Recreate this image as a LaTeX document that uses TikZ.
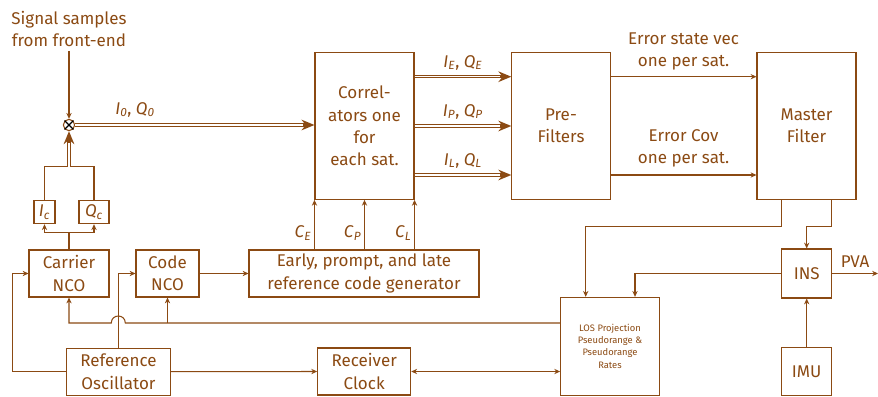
\documentclass[tikz,border=0pt]{standalone}
\usepackage{fontspec}
\setmainfont{Fira Sans}
\usepackage{tikz}
\usetikzlibrary{arrows.meta,calc}
\definecolor{rbrown}{RGB}{139,74,19}
\tikzstyle{block} = [rectangle, draw=rbrown, line width=0.9pt, align=center, inner sep=1pt]
\tikzstyle{arrow} = [line width=0.9pt, -{Stealth[length=5pt,width=4.5pt]}]
\tikzstyle{biarrow} = [line width=0.9pt, {Stealth[length=5pt,width=4.5pt]}-{Stealth[length=5pt,width=4.5pt]}]
\tikzstyle{dblarrow} = [line width=2.8pt, -{Stealth[length=11pt,width=9pt]},
  postaction={draw=white, line width=1.1pt, -, shorten >=10pt}]
\newcommand{\sig}[2]{\textit{#1}\textsubscript{\textit{#2}}}

\begin{document}
\begin{tikzpicture}[x=0.03cm, y=-0.03cm, draw=rbrown, text=rbrown,
    font=\fontsize{14.5}{19}\selectfont]
  \useasboundingbox (0,0) rectangle (878,396);

  % input and mixer
  \node (sig) at (69,29) [align=center] {Signal samples\\from front-end};
  \node (mix) at (69,125) [circle, draw=rbrown, line width=0.9pt, minimum size=0.34cm, inner sep=0pt] {};
  \draw[black, line width=1.2pt] (mix.north west) -- (mix.south east) (mix.north east) -- (mix.south west);

  % main chain
  \node (corr) at (364.5,126) [block, minimum width=2.97cm, minimum height=4.4cm] {Correl-\\ators one\\for\\each sat.};
  \node (pref) at (561,126) [block, minimum width=2.95cm, minimum height=4.4cm] {Pre-\\Filters};
  \node (mast) at (806.5,126) [block, minimum width=2.97cm, minimum height=4.42cm] {Master\\Filter};

  % carrier side
  \node (ic) at (44.5,212.2) [block, minimum width=0.63cm, minimum height=0.69cm] {\sig{I}{c}};
  \node (qc) at (94,212.2) [block, minimum width=0.9cm, minimum height=0.69cm] {\sig{Q}{c}};
  \node (carr) at (69,273.5) [block, minimum width=2.4cm, minimum height=1.41cm] {Carrier\\NCO};
  \node (code) at (167.5,273.5) [block, minimum width=1.89cm, minimum height=1.41cm] {Code\\NCO};
  \node (early) at (364,273.5) [block, minimum width=6.9cm, minimum height=1.41cm] {Early, prompt, and late\\reference code generator};

  % bottom row
  \node (ref) at (118.5,371.7) [block, minimum width=3.1cm, minimum height=1.41cm] {Reference\\Oscillator};
  \node (clk) at (364.2,371.5) [block, minimum width=2.79cm, minimum height=1.41cm] {Receiver\\Clock};
  \node (los) at (610,346.2) [block, minimum width=2.96cm, minimum height=2.93cm,
      font=\fontsize{8}{10.5}\selectfont] {LOS Projection\\Pseudorange \&\\Pseudorange\\Rates};
  \node (ins) at (806.7,273.5) [block, minimum width=1.5cm, minimum height=1.47cm] {INS};
  \node (imu) at (806.7,371.5) [block, minimum width=1.5cm, minimum height=1.44cm] {IMU};

  \coordinate (top) at (69,166.7);
  \coordinate (hop) at (118.3,323);
  \coordinate (pva) at (878,273.5);

  % signal path
  \draw[arrow] (sig) -- (mix);
  \draw[dblarrow] (mix.east) -- (mix.east -| corr.west)
    node[pos=0.25, above=2pt] {\sig{I}{0}, \sig{Q}{0}};
  \draw[dblarrow] (corr.east |- 0,76.7) -- (pref.west |- 0,76.7)
    node[midway, above=1pt] {\sig{I}{E}, \sig{Q}{E}};
  \draw[dblarrow] (corr.east) -- (pref.west)
    node[midway, above=1pt] {\sig{I}{P}, \sig{Q}{P}};
  \draw[dblarrow] (corr.east |- 0,175) -- (pref.west |- 0,175)
    node[midway, above=1pt] {\sig{I}{L}, \sig{Q}{L}};
  \draw[arrow] (pref.east |- 0,76.7) -- (mast.west |- 0,76.7)
    node[midway, above=2pt, align=center] {Error state vec\\one per sat.};
  \draw[arrow] (pref.east |- 0,175) -- (mast.west |- 0,175)
    node[midway, above=3pt, align=center] {Error Cov\\one per sat.};

  % carrier replica
  \draw[line width=0.9pt] (carr.north) -- ++(0,-17) coordinate (br);
  \draw[arrow] (br) -| (ic.south);
  \draw[arrow] (br) -| (qc.south);
  \draw[line width=0.9pt] (ic.north) |- (top) -| (qc.north);
  \draw[dblarrow] (top) -- (mix.south);

  % code replica
  \draw[arrow] (code.east) -- (early.west);
  \draw[arrow] (early.north -| corr.south west) -- (corr.south west)
    node[pos=0.33, left=-1pt] {\sig{C}{E}};
  \draw[arrow] (early.north -| corr.south) -- (corr.south)
    node[pos=0.33, left=-1pt] {\sig{C}{P}};
  \draw[arrow] (early.north -| corr.south east) -- (corr.south east)
    node[pos=0.33, left=-1pt] {\sig{C}{L}};

  % oscillator
  \draw[arrow] (ref.north) |- (code.west);
  \draw[arrow] (ref.west) -- ++(-54,0) |- (carr.west);
  \draw[arrow] (ref.east) -- (clk.west);
  \draw[biarrow] (clk.east) -- (los.west |- clk.east);

  % feedback from LOS
  \draw[arrow] (los.west |- hop) -- ($(hop)+(7,0)$)
    .. controls ($(hop)+(7,-9.3)$) and ($(hop)+(-7,-9.3)$) .. ($(hop)+(-7,0)$)
    -| (carr.south);
  \draw[arrow] (code.south |- hop) -- (code.south);

  % master filter and INS
  \draw[arrow] ($(mast.south)+(-25,0)$) -- ++(0,26) -| ($(los.north)+(-24.3,0)$);
  \draw[arrow] ($(mast.south)+(25,0)$) -- ++(0,26) -| (ins.north);
  \draw[arrow] (ins.west) -| ($(los.north)+(25,0)$);
  \draw[arrow] (imu) -- (ins);
  \draw[arrow] (ins.east) -- (pva) node[midway, above=1pt] {PVA};
\end{tikzpicture}
\end{document}
